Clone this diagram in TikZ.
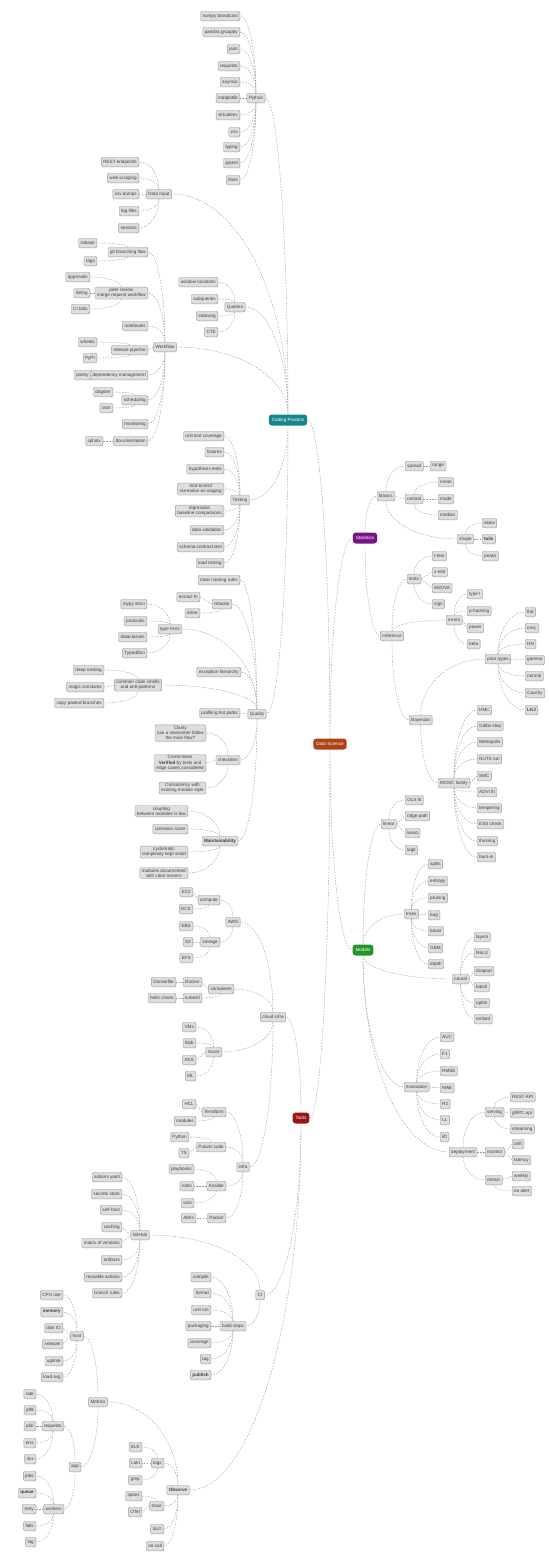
\documentclass[tikz,border=0pt]{standalone}
\usepackage{fontspec}
\setmainfont{Liberation Sans}
\usetikzlibrary{calc,shadows}

\newcommand{\mapfont}{\fontsize{4.6}{5.2}\selectfont}
\definecolor{coretopic}{RGB}{172,66,22}
\definecolor{tealtopic}{RGB}{22,134,140}
\definecolor{purpletopic}{RGB}{118,22,132}
\definecolor{greentopic}{RGB}{34,148,40}
\definecolor{redtopic}{RGB}{152,22,22}

\tikzstyle{leaf} = [align=center,draw=black!38,fill=black!13,font=\mapfont,text=black!75,rectangle,rounded corners=1.3pt,inner xsep=2pt,inner ysep=1.2pt,minimum height=9.5pt,drop shadow={shadow xshift=0.3pt,shadow yshift=-0.5pt,fill=black!30}]
\tikzstyle{topic} = [align=center,font=\mapfont,text=white,rectangle,rounded corners=3pt,inner xsep=3pt,inner ysep=1.2pt,minimum height=11pt]
\tikzstyle{link} = [draw=black!40,dash pattern=on 1.6pt off 1.3pt,line width=0.4pt]
\tikzset{elbow/.style={to path={let \p1=(\tikztostart), \p2=(\tikztotarget) in .. controls (\x1,{\y1+0.55*((\y2)-(\y1))}) and ({\x2+0.55*((\x1)-(\x2))},\y2) .. (\tikztotarget)}}}

\begin{document}
\begin{tikzpicture}[x=1pt,y=-1pt]
	\useasboundingbox (0,0) rectangle (549,1556);
	% main topics
	\node (core) [topic,fill=coretopic] at (330,744) {Data Science};
	\node (code) [topic,fill=tealtopic] at (288,420) {Coding Practice};
	\node (stats) [topic,fill=purpletopic] at (365,538) {Statistics};
	\node (models) [topic,fill=greentopic] at (363,950) {Models};
	\node (tools) [topic,fill=redtopic] at (301,1118) {Tools};
	\draw [link] (core.north) to[elbow] (code.east);
	\draw [link] (core.north) to[elbow] (stats.west);
	\draw [link] (core.south) to[elbow] (models.west);
	\draw [link] (core.south) to[elbow] (tools.east);

	% coding practice
	\node (py) [leaf] at (256,98) {Python};
	\node (py1) [leaf,anchor=east] at (240,16) {numpy broadcast};
	\node (py2) [leaf,anchor=east] at (240,32) {pandas groupby};
	\node (py3) [leaf,anchor=east] at (240,49) {json};
	\node (py4) [leaf,anchor=east] at (240,66) {requests};
	\node (py5) [leaf,anchor=east] at (240,82) {asyncio};
	\node (py6) [leaf,anchor=east] at (240,98) {matplotlib};
	\node (py7) [leaf,anchor=east] at (240,115) {virtualenv};
	\node (py8) [leaf,anchor=east] at (240,132) {csv};
	\node (py9) [leaf,anchor=east] at (240,147) {typing};
	\node (py10) [leaf,anchor=east] at (240,163) {pytest};
	\node (py11) [leaf,anchor=east] at (240,180) {flask};
	\node (input) [leaf] at (159,194) {Data Input};
	\node (input1) [leaf,anchor=east] at (139,162) {REST endpoints};
	\node (input2) [leaf,anchor=east] at (139,178) {web scraping};
	\node (input3) [leaf,anchor=east] at (139,194) {csv dumps};
	\node (input4) [leaf,anchor=east] at (139,211) {log files};
	\node (input5) [leaf,anchor=east] at (139,228) {sensors};
	\node (query) [leaf] at (235,307) {Queries};
	\node (query1) [leaf,anchor=east] at (218,282) {window functions};
	\node (query2) [leaf,anchor=east] at (218,299) {subqueries};
	\node (query3) [leaf,anchor=east] at (218,316) {indexing};
	\node (query4) [leaf,anchor=east] at (218,332) {CTE};
	\node (flow) [leaf] at (165,347) {Workflow};
	\node (flow1) [leaf,anchor=east] at (148,252) {git branching flow};
	\node (flow1a) [leaf,anchor=east] at (97,243) {rebase};
	\node (flow1b) [leaf,anchor=east] at (97,261) {tags};
	\node (flow2) [leaf,anchor=east] at (148,293) {peer review\\merge request workflow};
	\node (flow2a) [leaf,anchor=east] at (90,277) {approvals};
	\node (flow2b) [leaf,anchor=east] at (90,293) {linting};
	\node (flow2c) [leaf,anchor=east] at (90,309) {CI bots};
	\node (flow3) [leaf,anchor=east] at (148,326) {notebooks};
	\node (flow4) [leaf,anchor=east] at (148,350) {release pipeline};
	\node (flow4a) [leaf,anchor=east] at (97,342) {wheels};
	\node (flow4b) [leaf,anchor=east] at (97,358) {PyPI};
	\node (flow5) [leaf,anchor=east] at (148,375) {dependency management};
	\node (flow5a) [leaf,anchor=east] at (91,375) {poetry};
	\node (flow6) [leaf,anchor=east] at (148,400) {scheduling};
	\node (flow6a) [leaf,anchor=east] at (113,392) {dagster};
	\node (flow6b) [leaf,anchor=east] at (113,408) {cron};
	\node (flow7) [leaf,anchor=east] at (148,424) {monitoring};
	\node (flow8) [leaf,anchor=east] at (148,441) {documentation};
	\node (flow8a) [leaf,anchor=east] at (103,441) {sphinx};
	\node (test) [leaf] at (240,500) {Testing};
	\node (test1) [leaf,anchor=east] at (224,436) {unit test coverage};
	\node (test2) [leaf,anchor=east] at (224,452) {fixtures};
	\node (test3) [leaf,anchor=east] at (224,469) {hypothesis tests};
	\node (test4) [leaf,anchor=east] at (224,489) {end-to-end\\scenarios on staging};
	\node (test5) [leaf,anchor=east] at (224,511) {regression\\baseline comparisons};
	\node (test6) [leaf,anchor=east] at (224,530) {data validation};
	\node (test7) [leaf,anchor=east] at (224,547) {schema contract test};
	\node (test8) [leaf,anchor=east] at (224,563) {load testing};
	\node (qual) [leaf] at (257,714) {Quality};
	\node (qual1) [leaf,anchor=east] at (240,580) {clear naming rules};
	\node (qual2) [leaf] at (222,604) {refactor};
	\node (qual2a) [leaf,anchor=east] at (200,597) {extract fn};
	\node (qual2b) [leaf,anchor=east] at (200,613) {inline};
	\node (qual3) [leaf] at (170,629) {type hints};
	\node (qual3a) [leaf,anchor=east] at (147,604) {mypy strict};
	\node (qual3b) [leaf,anchor=east] at (147,621) {protocols};
	\node (qual3c) [leaf,anchor=east] at (147,637) {dataclasses};
	\node (qual3d) [leaf,anchor=east] at (147,653) {TypedDict};
	\node (qual4) [leaf,anchor=east] at (241,672) {exception hierarchy};
	\node (qual5) [leaf] at (138,685) {common code smells\\and anti-patterns};
	\node (qual5a) [leaf,anchor=east] at (104,670) {deep nesting};
	\node (qual5b) [leaf,anchor=east] at (104,687) {magic constants};
	\node (qual5c) [leaf,anchor=east] at (104,703) {copy-pasted branches};
	\node (qual6) [leaf,anchor=east] at (240,713) {profiling hot paths};
	\node (qual7) [leaf] at (228,760) {checklists};
	\node (qual7a) [leaf,anchor=east] at (206,733) {Clarity\\can a newcomer follow\\the main flow?};
	\node (qual7b) [leaf,anchor=east] at (206,763) {Correctness\\\textbf{Verified} by tests and\\edge cases considered};
	\node (qual7c) [leaf,anchor=east] at (206,788) {Consistency with\\existing module style};
	\node (qual8) [leaf] at (220,841) {\textbf{Maintainability}};
	\node (qual8a) [leaf,anchor=east] at (188,811) {coupling\\between modules is low};
	\node (qual8b) [leaf,anchor=east] at (188,829) {cohesion score};
	\node (qual8c) [leaf,anchor=east] at (188,852) {cyclomatic\\complexity kept small};
	\node (qual8d) [leaf,anchor=east] at (188,873) {modules documented\\with clear owners};
	\draw [link] (code.north) to[elbow] (py.east);
	\draw [link] (code.north) to[elbow] (input.east);
	\draw [link] (code.north) to[elbow] (query.east);
	\draw [link] (code.north) to[elbow] (flow.east);
	\draw [link] (code.south) to[elbow] (test.east);
	\draw [link] (code.south) to[elbow] (qual.east);
	\draw [link] (py.north) to[elbow] (py1.east);
	\draw [link] (py.north) to[elbow] (py2.east);
	\draw [link] (py.north) to[elbow] (py3.east);
	\draw [link] (py.north) to[elbow] (py4.east);
	\draw [link] (py.north) to[elbow] (py5.east);
	\draw [link] (py.west) -- (py6.east);
	\draw [link] (py.south) to[elbow] (py7.east);
	\draw [link] (py.south) to[elbow] (py8.east);
	\draw [link] (py.south) to[elbow] (py9.east);
	\draw [link] (py.south) to[elbow] (py10.east);
	\draw [link] (py.south) to[elbow] (py11.east);
	\draw [link] (input.north) to[elbow] (input1.east);
	\draw [link] (input.north) to[elbow] (input2.east);
	\draw [link] (input.west) -- (input3.east);
	\draw [link] (input.south) to[elbow] (input4.east);
	\draw [link] (input.south) to[elbow] (input5.east);
	\draw [link] (query.north) to[elbow] (query1.east);
	\draw [link] (query.north) to[elbow] (query2.east);
	\draw [link] (query.south) to[elbow] (query3.east);
	\draw [link] (query.south) to[elbow] (query4.east);
	\draw [link] (flow.north) to[elbow] (flow1.east);
	\draw [link] (flow.north) to[elbow] (flow2.east);
	\draw [link] (flow.north) to[elbow] (flow3.east);
	\draw [link] (flow.west) -- (flow4.east);
	\draw [link] (flow.south) to[elbow] (flow5.east);
	\draw [link] (flow.south) to[elbow] (flow6.east);
	\draw [link] (flow.south) to[elbow] (flow7.east);
	\draw [link] (flow.south) to[elbow] (flow8.east);
	\draw [link] (flow1.north) to[elbow] (flow1a.east);
	\draw [link] (flow1.south) to[elbow] (flow1b.east);
	\draw [link] (flow2.north) to[elbow] (flow2a.east);
	\draw [link] (flow2.west) -- (flow2b.east);
	\draw [link] (flow2.south) to[elbow] (flow2c.east);
	\draw [link] (flow4.north) to[elbow] (flow4a.east);
	\draw [link] (flow4.south) to[elbow] (flow4b.east);
	\draw [link] (flow5.west) -- (flow5a.east);
	\draw [link] (flow6.north) to[elbow] (flow6a.east);
	\draw [link] (flow6.south) to[elbow] (flow6b.east);
	\draw [link] (flow8.west) -- (flow8a.east);
	\draw [link] (test.north) to[elbow] (test1.east);
	\draw [link] (test.north) to[elbow] (test2.east);
	\draw [link] (test.north) to[elbow] (test3.east);
	\draw [link] (test.north) to[elbow] (test4.east);
	\draw [link] (test.south) to[elbow] (test5.east);
	\draw [link] (test.south) to[elbow] (test6.east);
	\draw [link] (test.south) to[elbow] (test7.east);
	\draw [link] (test.south) to[elbow] (test8.east);
	\draw [link] (qual.north) to[elbow] (qual1.east);
	\draw [link] (qual.north) to[elbow] (qual2.east);
	\draw [link] (qual.north) to[elbow] (qual3.east);
	\draw [link] (qual.north) to[elbow] (qual4.east);
	\draw [link] (qual.north) to[elbow] (qual5.east);
	\draw [link] (qual.west) -- (qual6.east);
	\draw [link] (qual.south) to[elbow] (qual7.east);
	\draw [link] (qual.south) to[elbow] (qual8.east);
	\draw [link] (qual2.west) -- (qual2a.east);
	\draw [link] (qual2.south) to[elbow] (qual2b.east);
	\draw [link] (qual3.north) to[elbow] (qual3a.east);
	\draw [link] (qual3.north) to[elbow] (qual3b.east);
	\draw [link] (qual3.south) to[elbow] (qual3c.east);
	\draw [link] (qual3.south) to[elbow] (qual3d.east);
	\draw [link] (qual5.north) to[elbow] (qual5a.east);
	\draw [link] (qual5.west) -- (qual5b.east);
	\draw [link] (qual5.south) to[elbow] (qual5c.east);
	\draw [link] (qual7.north) to[elbow] (qual7a.east);
	\draw [link] (qual7.west) -- (qual7b.east);
	\draw [link] (qual7.south) to[elbow] (qual7c.east);
	\draw [link] (qual8.north) to[elbow] (qual8a.east);
	\draw [link] (qual8.north) to[elbow] (qual8b.east);
	\draw [link] (qual8.south) to[elbow] (qual8c.east);
	\draw [link] (qual8.south) to[elbow] (qual8d.east);

	% statistics
	\node (basic) [leaf] at (386,496) {Basics};
	\node (spread) [leaf,anchor=west] at (405,466) {spread};
	\node (range) [leaf,anchor=west] at (430,466) {range};
	\node (centre) [leaf,anchor=west] at (405,499) {central};
	\node (mean) [leaf,anchor=west] at (438,482) {mean};
	\node (mode) [leaf,anchor=west] at (438,499) {mode};
	\node (median) [leaf,anchor=west] at (438,515) {median};
	\node (shape) [leaf,anchor=west] at (457,539) {shape};
	\node (skew) [leaf,anchor=west] at (482,523) {skew};
	\node (tails) [leaf,anchor=west] at (482,539) {\textbf{tails}};
	\node (peaks) [leaf,anchor=west] at (482,556) {peaks};
	\node (infer) [leaf] at (392,636) {Inference};
	\node (hyp) [leaf,anchor=west] at (407,579) {tests};
	\node (ttest) [leaf,anchor=west] at (432,556) {t-test};
	\node (ztest) [leaf,anchor=west] at (432,572) {z-test};
	\node (anova) [leaf,anchor=west] at (432,588) {ANOVA};
	\node (signt) [leaf,anchor=west] at (432,604) {sign};
	\node (errs) [leaf,anchor=west] at (446,620) {errors};
	\node (type1) [leaf,anchor=west] at (467,594) {type I};
	\node (phack) [leaf,anchor=west] at (467,611) {p-hacking};
	\node (power) [leaf,anchor=west] at (467,628) {power};
	\node (beta) [leaf,anchor=west] at (467,644) {beta};
	\node (bayes) [leaf,anchor=west] at (409,720) {Bayesian};
	\node (prior) [leaf,anchor=west] at (485,659) {prior types};
	\node (prior1) [leaf,anchor=west] at (525,612) {flat};
	\node (prior2) [leaf,anchor=west] at (525,628) {conj.};
	\node (prior3) [leaf,anchor=west] at (525,644) {HN};
	\node (prior4) [leaf,anchor=west] at (525,660) {gamma};
	\node (prior5) [leaf,anchor=west] at (525,676) {normal};
	\node (prior6) [leaf,anchor=west] at (525,693) {Cauchy};
	\node (prior7) [leaf,anchor=west] at (525,710) {\textbf{LKJ}};
	\node (mcmc) [leaf,anchor=west] at (438,783) {MCMC family};
	\node (mcmc1) [leaf,anchor=west] at (477,710) {HMC};
	\node (mcmc2) [leaf,anchor=west] at (477,726) {Gibbs step};
	\node (mcmc3) [leaf,anchor=west] at (477,742) {Metropolis};
	\node (mcmc4) [leaf,anchor=west] at (477,759) {NUTS run};
	\node (mcmc5) [leaf,anchor=west] at (477,776) {SMC};
	\node (mcmc6) [leaf,anchor=west] at (477,792) {ADVI fit};
	\node (mcmc7) [leaf,anchor=west] at (477,808) {tempering};
	\node (mcmc8) [leaf,anchor=west] at (477,824) {ESS check};
	\node (mcmc9) [leaf,anchor=west] at (477,841) {thinning};
	\node (mcmc10) [leaf,anchor=west] at (477,857) {burn-in};
	\draw [link] (stats.north) to[elbow] (basic.west);
	\draw [link] (stats.south) to[elbow] (infer.west);
	\draw [link] (basic.north) to[elbow] (spread.west);
	\draw [link] (basic.east) -- (centre.west);
	\draw [link] (basic.south) to[elbow] (shape.west);
	\draw [link] (spread.east) -- (range.west);
	\draw [link] (centre.north) to[elbow] (mean.west);
	\draw [link] (centre.east) -- (mode.west);
	\draw [link] (centre.south) to[elbow] (median.west);
	\draw [link] (shape.north) to[elbow] (skew.west);
	\draw [link] (shape.east) -- (tails.west);
	\draw [link] (shape.south) to[elbow] (peaks.west);
	\draw [link] (infer.north) to[elbow] (hyp.west);
	\draw [link] (infer.north) to[elbow] (errs.west);
	\draw [link] (infer.south) to[elbow] (bayes.west);
	\draw [link] (hyp.north) to[elbow] (ttest.west);
	\draw [link] (hyp.east) -- (ztest.west);
	\draw [link] (hyp.east) -- (anova.west);
	\draw [link] (hyp.south) to[elbow] (signt.west);
	\draw [link] (errs.north) to[elbow] (type1.west);
	\draw [link] (errs.north) to[elbow] (phack.west);
	\draw [link] (errs.east) -- (power.west);
	\draw [link] (errs.south) to[elbow] (beta.west);
	\draw [link] (bayes.north) to[elbow] (prior.west);
	\draw [link] (bayes.south) to[elbow] (mcmc.west);
	\draw [link] (prior.north) to[elbow] (prior1.west);
	\draw [link] (prior.north) to[elbow] (prior2.west);
	\draw [link] (prior.north) to[elbow] (prior3.west);
	\draw [link] (prior.east) -- (prior4.west);
	\draw [link] (prior.south) to[elbow] (prior5.west);
	\draw [link] (prior.south) to[elbow] (prior6.west);
	\draw [link] (prior.south) to[elbow] (prior7.west);
	\draw [link] (mcmc.north) to[elbow] (mcmc1.west);
	\draw [link] (mcmc.north) to[elbow] (mcmc2.west);
	\draw [link] (mcmc.north) to[elbow] (mcmc3.west);
	\draw [link] (mcmc.north) to[elbow] (mcmc4.west);
	\draw [link] (mcmc.east) -- (mcmc5.west);
	\draw [link] (mcmc.south) to[elbow] (mcmc6.west);
	\draw [link] (mcmc.south) to[elbow] (mcmc7.west);
	\draw [link] (mcmc.south) to[elbow] (mcmc8.west);
	\draw [link] (mcmc.south) to[elbow] (mcmc9.west);
	\draw [link] (mcmc.south) to[elbow] (mcmc10.west);

	% models
	\node (linear) [leaf,anchor=west] at (381,824) {linear};
	\node (linear1) [leaf,anchor=west] at (405,800) {OLS fit};
	\node (linear2) [leaf,anchor=west] at (405,816) {ridge path};
	\node (linear3) [leaf,anchor=west] at (405,833) {lasso};
	\node (linear4) [leaf,anchor=west] at (405,850) {logit};
	\node (trees) [leaf,anchor=west] at (404,914) {trees};
	\node (trees1) [leaf,anchor=west] at (428,864) {splits};
	\node (trees2) [leaf,anchor=west] at (428,881) {entropy};
	\node (trees3) [leaf,anchor=west] at (428,898) {pruning};
	\node (trees4) [leaf,anchor=west] at (428,915) {bag};
	\node (trees5) [leaf,anchor=west] at (428,931) {boost};
	\node (trees6) [leaf,anchor=west] at (428,948) {GBM};
	\node (trees7) [leaf,anchor=west] at (428,964) {depth};
	\node (neural) [leaf,anchor=west] at (452,979) {neural};
	\node (neural1) [leaf,anchor=west] at (474,937) {layers};
	\node (neural2) [leaf,anchor=west] at (474,953) {ReLU};
	\node (neural3) [leaf,anchor=west] at (474,971) {dropout};
	\node (neural4) [leaf,anchor=west] at (474,987) {batch};
	\node (neural5) [leaf,anchor=west] at (474,1003) {optim};
	\node (neural6) [leaf,anchor=west] at (474,1019) {embed};
	\node (evalm) [leaf,anchor=west] at (404,1087) {evaluation};
	\node (evalm1) [leaf,anchor=west] at (440,1037) {AUC};
	\node (evalm2) [leaf,anchor=west] at (440,1054) {F1};
	\node (evalm3) [leaf,anchor=west] at (440,1071) {RMSE};
	\node (evalm4) [leaf,anchor=west] at (440,1088) {MAE};
	\node (evalm5) [leaf,anchor=west] at (440,1104) {R2};
	\node (evalm6) [leaf,anchor=west] at (440,1120) {LL};
	\node (evalm7) [leaf,anchor=west] at (440,1137) {lift};
	\node (deploy) [leaf,anchor=west] at (449,1152) {deployment};
	\node (serve) [leaf,anchor=west] at (485,1112) {serving};
	\node (serve1) [leaf,anchor=west] at (510,1097) {REST API};
	\node (serve2) [leaf,anchor=west] at (510,1113) {gRPC api};
	\node (serve3) [leaf,anchor=west] at (510,1129) {streaming};
	\node (watch) [leaf,anchor=west] at (485,1152) {monitor};
	\node (watch1) [leaf,anchor=west] at (512,1144) {drift};
	\node (watch2) [leaf,anchor=west] at (512,1160) {latency};
	\node (retrain) [leaf,anchor=west] at (485,1180) {retrain};
	\node (retrain1) [leaf,anchor=west] at (512,1176) {weekly};
	\node (retrain2) [leaf,anchor=west] at (512,1191) {on alert};
	\draw [link] (models.north) to[elbow] (linear.west);
	\draw [link] (models.north) to[elbow] (trees.west);
	\draw [link] (models.south) to[elbow] (neural.west);
	\draw [link] (models.south) to[elbow] (evalm.west);
	\draw [link] (models.south) to[elbow] (deploy.west);
	\draw [link] (linear.north) to[elbow] (linear1.west);
	\draw [link] (linear.east) -- (linear2.west);
	\draw [link] (linear.east) -- (linear3.west);
	\draw [link] (linear.south) to[elbow] (linear4.west);
	\draw [link] (trees.north) to[elbow] (trees1.west);
	\draw [link] (trees.north) to[elbow] (trees2.west);
	\draw [link] (trees.north) to[elbow] (trees3.west);
	\draw [link] (trees.east) -- (trees4.west);
	\draw [link] (trees.south) to[elbow] (trees5.west);
	\draw [link] (trees.south) to[elbow] (trees6.west);
	\draw [link] (trees.south) to[elbow] (trees7.west);
	\draw [link] (neural.north) to[elbow] (neural1.west);
	\draw [link] (neural.north) to[elbow] (neural2.west);
	\draw [link] (neural.east) -- (neural3.west);
	\draw [link] (neural.east) -- (neural4.west);
	\draw [link] (neural.south) to[elbow] (neural5.west);
	\draw [link] (neural.south) to[elbow] (neural6.west);
	\draw [link] (evalm.north) to[elbow] (evalm1.west);
	\draw [link] (evalm.north) to[elbow] (evalm2.west);
	\draw [link] (evalm.north) to[elbow] (evalm3.west);
	\draw [link] (evalm.east) -- (evalm4.west);
	\draw [link] (evalm.south) to[elbow] (evalm5.west);
	\draw [link] (evalm.south) to[elbow] (evalm6.west);
	\draw [link] (evalm.south) to[elbow] (evalm7.west);
	\draw [link] (deploy.north) to[elbow] (serve.west);
	\draw [link] (deploy.east) -- (watch.west);
	\draw [link] (deploy.south) to[elbow] (retrain.west);
	\draw [link] (serve.north) to[elbow] (serve1.west);
	\draw [link] (serve.east) -- (serve2.west);
	\draw [link] (serve.south) to[elbow] (serve3.west);
	\draw [link] (watch.east) -- (watch1.west);
	\draw [link] (watch.east) -- (watch2.west);
	\draw [link] (retrain.east) -- (retrain1.west);
	\draw [link] (retrain.south) to[elbow] (retrain2.west);

	% tools
	\node (cloud) [leaf] at (273,1017) {cloud infra};
	\node (aws) [leaf] at (233,922) {AWS};
	\node (compute) [leaf,anchor=east] at (220,900) {compute};
	\node (compute1) [leaf,anchor=east] at (193,892) {EC2};
	\node (compute2) [leaf,anchor=east] at (193,909) {ECS};
	\node (storage) [leaf,anchor=east] at (220,942) {storage};
	\node (storage1) [leaf,anchor=east] at (193,926) {EBS};
	\node (storage2) [leaf,anchor=east] at (193,942) {S3};
	\node (storage3) [leaf,anchor=east] at (193,958) {EFS};
	\node (contain) [leaf,anchor=east] at (234,989) {containers};
	\node (docker) [leaf,anchor=east] at (202,982) {Docker};
	\node (docker1) [leaf,anchor=east] at (176,982) {Dockerfile};
	\node (kube) [leaf,anchor=east] at (202,998) {kubectl};
	\node (kube1) [leaf,anchor=east] at (176,998) {helm charts};
	\node (azure) [leaf,anchor=east] at (222,1052) {Azure};
	\node (azure1) [leaf,anchor=east] at (196,1027) {VMs};
	\node (azure2) [leaf,anchor=east] at (196,1043) {blob};
	\node (azure3) [leaf,anchor=east] at (196,1060) {AKS};
	\node (azure4) [leaf,anchor=east] at (196,1076) {ML};
	\node (infra) [leaf] at (243,1167) {infra};
	\node (terra) [leaf,anchor=east] at (226,1112) {Terraform};
	\node (terra1) [leaf,anchor=east] at (196,1104) {HCL};
	\node (terra2) [leaf,anchor=east] at (196,1121) {modules};
	\node (pulumi) [leaf,anchor=east] at (226,1147) {Pulumi code};
	\node (pulumi1) [leaf,anchor=east] at (189,1137) {Python};
	\node (pulumi2) [leaf,anchor=east] at (189,1153) {TS};
	\node (ansible) [leaf,anchor=east] at (226,1186) {Ansible};
	\node (ansible1) [leaf,anchor=east] at (194,1169) {playbooks};
	\node (ansible2) [leaf,anchor=east] at (194,1186) {roles};
	\node (ansible3) [leaf,anchor=east] at (194,1203) {vars};
	\node (packer) [leaf,anchor=east] at (226,1218) {Packer};
	\node (packer1) [leaf,anchor=east] at (196,1218) {AMIs};
	\node (cicd) [leaf] at (260,1295) {CI};
	\node (gha) [leaf] at (140,1235) {GitHub};
	\node (gha1) [leaf,anchor=east] at (122,1177) {actions yaml};
	\node (gha2) [leaf,anchor=east] at (122,1194) {secrets store};
	\node (gha3) [leaf,anchor=east] at (122,1210) {self-host};
	\node (gha4) [leaf,anchor=east] at (122,1227) {caching};
	\node (gha5) [leaf,anchor=east] at (122,1243) {matrix of versions};
	\node (gha6) [leaf,anchor=east] at (122,1260) {artifacts};
	\node (gha7) [leaf,anchor=east] at (122,1277) {reusable actions};
	\node (gha8) [leaf,anchor=east] at (122,1293) {branch rules};
	\node (build) [leaf] at (233,1326) {build steps};
	\node (build1) [leaf,anchor=east] at (211,1277) {compile};
	\node (build2) [leaf,anchor=east] at (211,1293) {format};
	\node (build3) [leaf,anchor=east] at (211,1310) {unit run};
	\node (build4) [leaf,anchor=east] at (211,1326) {packaging};
	\node (build5) [leaf,anchor=east] at (211,1343) {coverage};
	\node (build6) [leaf,anchor=east] at (211,1359) {tag};
	\node (build7) [leaf,anchor=east] at (211,1375) {\textbf{publish}};
	\node (observe) [leaf] at (178,1490) {\textbf{Observe}};
	\node (metric) [leaf] at (98,1402) {Metrics};
	\node (host) [leaf] at (77,1336) {host};
	\node (host1) [leaf,anchor=east] at (63,1295) {CPU use};
	\node (host2) [leaf,anchor=east] at (63,1312) {\textbf{memory}};
	\node (host3) [leaf,anchor=east] at (63,1328) {disk IO};
	\node (host4) [leaf,anchor=east] at (63,1344) {network};
	\node (host5) [leaf,anchor=east] at (63,1361) {uptime};
	\node (host6) [leaf,anchor=east] at (63,1377) {load avg};
	\node (app) [leaf] at (75,1467) {app};
	\node (reqs) [leaf,anchor=east] at (64,1426) {requests};
	\node (reqs1) [leaf,anchor=east] at (36,1394) {rate};
	\node (reqs2) [leaf,anchor=east] at (36,1410) {p99};
	\node (reqs3) [leaf,anchor=east] at (36,1426) {p50};
	\node (reqs4) [leaf,anchor=east] at (36,1443) {errs};
	\node (reqs5) [leaf,anchor=east] at (36,1459) {4xx};
	\node (work) [leaf,anchor=east] at (64,1509) {workers};
	\node (work1) [leaf,anchor=east] at (36,1476) {jobs};
	\node (work2) [leaf,anchor=east] at (36,1493) {\textbf{queue}};
	\node (work3) [leaf,anchor=east] at (36,1509) {retry};
	\node (work4) [leaf,anchor=east] at (36,1526) {fails};
	\node (work5) [leaf,anchor=east] at (36,1542) {lag};
	\node (logs) [leaf,anchor=east] at (164,1463) {logs};
	\node (logs1) [leaf,anchor=east] at (142,1447) {ELK};
	\node (logs2) [leaf,anchor=east] at (142,1463) {Loki};
	\node (logs3) [leaf,anchor=east] at (142,1480) {grep};
	\node (trace) [leaf,anchor=east] at (164,1506) {trace};
	\node (trace1) [leaf,anchor=east] at (142,1496) {spans};
	\node (trace2) [leaf,anchor=east] at (142,1512) {OTel};
	\node (slo) [leaf,anchor=east] at (164,1529) {SLO};
	\node (oncall) [leaf,anchor=east] at (164,1546) {on-call};
	\draw [link] (tools.north) to[elbow] (cloud.east);
	\draw [link] (tools.south) to[elbow] (cicd.east);
	\draw [link] (tools.south) to[elbow] (observe.east);
	\draw [link] (cloud.north) to[elbow] (aws.east);
	\draw [link] (cloud.north) to[elbow] (contain.east);
	\draw [link] (cloud.south) to[elbow] (azure.east);
	\draw [link] (cloud.south) to[elbow] (infra.east);
	\draw [link] (aws.north) to[elbow] (compute.east);
	\draw [link] (aws.south) to[elbow] (storage.east);
	\draw [link] (compute.west) -- (compute1.east);
	\draw [link] (compute.south) to[elbow] (compute2.east);
	\draw [link] (storage.north) to[elbow] (storage1.east);
	\draw [link] (storage.west) -- (storage2.east);
	\draw [link] (storage.south) to[elbow] (storage3.east);
	\draw [link] (contain.west) -- (docker.east);
	\draw [link] (contain.south) to[elbow] (kube.east);
	\draw [link] (docker.west) -- (docker1.east);
	\draw [link] (kube.west) -- (kube1.east);
	\draw [link] (azure.north) to[elbow] (azure1.east);
	\draw [link] (azure.north) to[elbow] (azure2.east);
	\draw [link] (azure.west) -- (azure3.east);
	\draw [link] (azure.south) to[elbow] (azure4.east);
	\draw [link] (infra.north) to[elbow] (terra.east);
	\draw [link] (infra.north) to[elbow] (pulumi.east);
	\draw [link] (infra.south) to[elbow] (ansible.east);
	\draw [link] (infra.south) to[elbow] (packer.east);
	\draw [link] (terra.west) -- (terra1.east);
	\draw [link] (terra.south) to[elbow] (terra2.east);
	\draw [link] (pulumi.north) to[elbow] (pulumi1.east);
	\draw [link] (pulumi.west) -- (pulumi2.east);
	\draw [link] (ansible.north) to[elbow] (ansible1.east);
	\draw [link] (ansible.west) -- (ansible2.east);
	\draw [link] (ansible.south) to[elbow] (ansible3.east);
	\draw [link] (packer.west) -- (packer1.east);
	\draw [link] (cicd.north) to[elbow] (gha.east);
	\draw [link] (cicd.south) to[elbow] (build.east);
	\draw [link] (gha.north) to[elbow] (gha1.east);
	\draw [link] (gha.north) to[elbow] (gha2.east);
	\draw [link] (gha.north) to[elbow] (gha3.east);
	\draw [link] (gha.west) -- (gha4.east);
	\draw [link] (gha.west) -- (gha5.east);
	\draw [link] (gha.south) to[elbow] (gha6.east);
	\draw [link] (gha.south) to[elbow] (gha7.east);
	\draw [link] (gha.south) to[elbow] (gha8.east);
	\draw [link] (build.north) to[elbow] (build1.east);
	\draw [link] (build.north) to[elbow] (build2.east);
	\draw [link] (build.north) to[elbow] (build3.east);
	\draw [link] (build.west) -- (build4.east);
	\draw [link] (build.south) to[elbow] (build5.east);
	\draw [link] (build.south) to[elbow] (build6.east);
	\draw [link] (build.south) to[elbow] (build7.east);
	\draw [link] (observe.north) to[elbow] (metric.east);
	\draw [link] (observe.north) to[elbow] (logs.east);
	\draw [link] (observe.south) to[elbow] (trace.east);
	\draw [link] (observe.south) to[elbow] (slo.east);
	\draw [link] (observe.south) to[elbow] (oncall.east);
	\draw [link] (metric.north) to[elbow] (host.east);
	\draw [link] (metric.south) to[elbow] (app.east);
	\draw [link] (host.north) to[elbow] (host1.east);
	\draw [link] (host.north) to[elbow] (host2.east);
	\draw [link] (host.west) -- (host3.east);
	\draw [link] (host.west) -- (host4.east);
	\draw [link] (host.south) to[elbow] (host5.east);
	\draw [link] (host.south) to[elbow] (host6.east);
	\draw [link] (app.north) to[elbow] (reqs.east);
	\draw [link] (app.south) to[elbow] (work.east);
	\draw [link] (reqs.north) to[elbow] (reqs1.east);
	\draw [link] (reqs.north) to[elbow] (reqs2.east);
	\draw [link] (reqs.west) -- (reqs3.east);
	\draw [link] (reqs.south) to[elbow] (reqs4.east);
	\draw [link] (reqs.south) to[elbow] (reqs5.east);
	\draw [link] (work.north) to[elbow] (work1.east);
	\draw [link] (work.north) to[elbow] (work2.east);
	\draw [link] (work.west) -- (work3.east);
	\draw [link] (work.south) to[elbow] (work4.east);
	\draw [link] (work.south) to[elbow] (work5.east);
	\draw [link] (logs.north) to[elbow] (logs1.east);
	\draw [link] (logs.west) -- (logs2.east);
	\draw [link] (logs.south) to[elbow] (logs3.east);
	\draw [link] (trace.north) to[elbow] (trace1.east);
	\draw [link] (trace.west) -- (trace2.east);
\end{tikzpicture}
\end{document}
